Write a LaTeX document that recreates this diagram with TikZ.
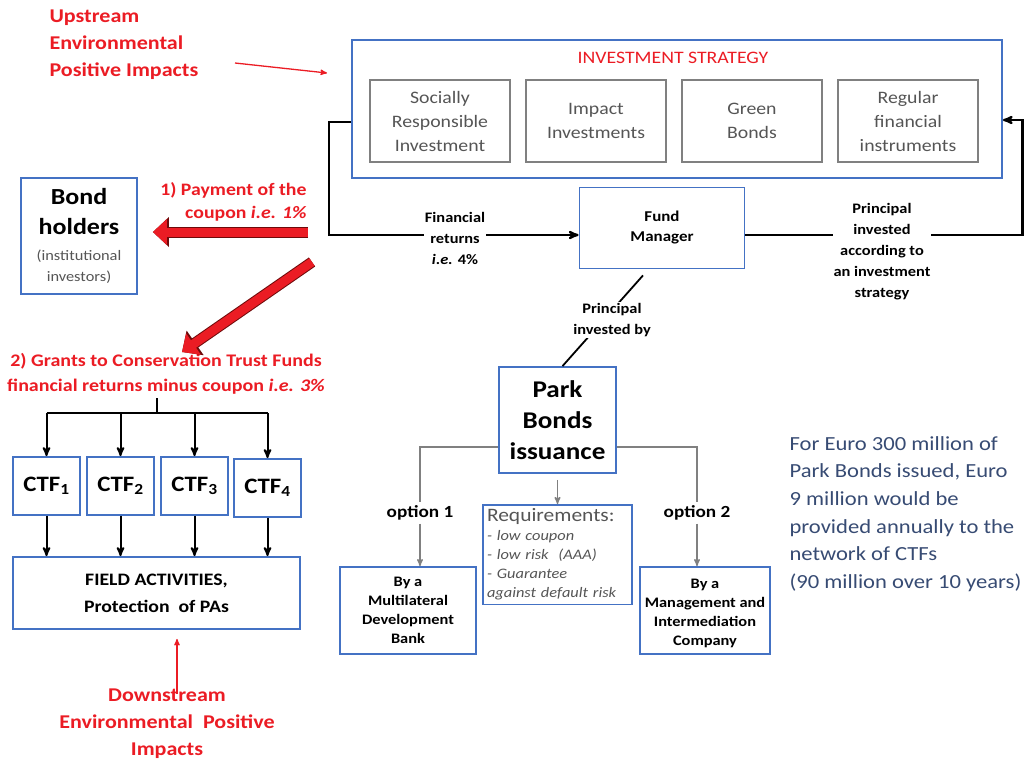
\documentclass[tikz,border=0pt]{standalone}
\usepackage{fontspec}
\setmainfont{Carlito}[FakeStretch=1.13]
\usepackage{tikz}
\usetikzlibrary{arrows}
\usetikzlibrary{arrows.meta}
\usetikzlibrary{positioning,calc}
\definecolor{boxblue}{RGB}{68,114,196}
\definecolor{mred}{RGB}{235,28,36}
\definecolor{darkred}{RGB}{110,10,10}
\definecolor{notecol}{RGB}{55,75,115}
\definecolor{txtgray}{RGB}{85,85,85}
\newcommand{\fsz}[2]{\fontsize{#1}{#2}\selectfont}
\newcommand{\smgray}{\fsz{14.5}{21}\mdseries\color{txtgray}}
\tikzset{
 bluebox/.style={draw=boxblue, line width=1.8pt, align=center, inner sep=2pt},
 graybox/.style={draw=gray, line width=1.4pt, align=center, minimum width=140pt, minimum height=82pt, font=\fsz{17.5}{24}, text=txtgray},
 conn/.style={black, line width=2.2pt, >=stealth'},
 gline/.style={draw=gray, line width=1.4pt, >=stealth'},
 thinred/.style={mred, line width=1.3pt, ->, >=stealth'},
 redlbl/.style={text=mred, font=\bfseries},
 blbl/.style={font=\fsz{14.5}{21}\bfseries, align=center, fill=white, inner sep=1pt},
 fatarrow/.style={line width=9pt, draw=mred, -{Triangle[length=14pt,width=25pt]},
   preaction={draw=darkred, line width=11pt, -{Triangle[length=16pt,width=29pt]}}}
}

\begin{document}
\begin{tikzpicture}[x=1pt,y=-1pt]
\useasboundingbox (0,0) rectangle (1027,761);

% upstream impacts
\node[redlbl, anchor=west, align=left, font=\fsz{19.5}{27}\bfseries] (up) at (46,45) {Upstream\\Environmental\\Positive Impacts};
\coordinate (upA) at (235,63);
\coordinate (upB) at (327,73);
\draw[thinred] (upA) -- (upB);

% investment strategy
\node[bluebox, minimum width=650pt, minimum height=138pt] (strat) at (677,109) {};
\node[text=mred, font=\fsz{17.5}{20}] (title) at (673,58) {INVESTMENT STRATEGY};
\foreach \i/\x/\txt in {1/440/{Socially\\Responsible\\Investment}, 2/596/{Impact\\Investments}, 3/752/{Green\\Bonds}, 4/908/{Regular\\financial\\instruments}}
 \node[graybox] (s\i) at (\x,121) {\txt};

% fund manager
\node[bluebox, minimum width=165pt, minimum height=81pt, font=\fsz{15}{20}\bfseries] (fm) at (662,228) {Fund\\Manager};
\draw[conn,->] ([yshift=-13pt]strat.west) -- ++(-22,0) |- ([yshift=-7pt]fm.west);
\node[blbl] (finret) at (455,238) {Financial\\returns\\\textit{i.e.} 4\%};
\draw[conn,->] ([yshift=-7pt]fm.east) -- ++(277,0) |- ([yshift=-11pt]strat.east);
\node[blbl] (princ) at (882,252) {Principal\\invested\\according to\\an investment\\strategy};

% park bonds
\node[bluebox, minimum width=117pt, minimum height=106pt, font=\fsz{24}{31}\bfseries] (park) at (557.5,420) {Park\\Bonds\\issuance};
\draw[conn, line width=1.8pt] ([xshift=-19pt,yshift=-6pt]fm.south) -- ([xshift=5pt]park.north);
\node[blbl] (pinv) at (612,320) {Principal\\invested by};

% options
\node[font=\fsz{17}{20}\bfseries, inner sep=3pt] (opt1) at (420,513) {option 1};
\node[font=\fsz{17}{20}\bfseries, inner sep=3pt] (opt2) at (697,513) {option 2};
\node[bluebox, minimum width=136pt, minimum height=87pt, font=\fsz{14.5}{19}\bfseries] (mdb) at (408,610.5) {By a\\Multilateral\\Development\\Bank};
\node[bluebox, minimum width=130pt, minimum height=87pt, font=\fsz{14.5}{19}\bfseries] (mic) at (705,610.5) {\mbox{}\\[-3pt]By a\\Management and\\Intermediation\\Company};
\node[bluebox, anchor=north, align=left, text width=141pt, inner xsep=4pt, inner ysep=4pt, font=\fsz{14.5}{19}\itshape, text=txtgray] (req) at (557.5,504) {{\upshape\fsz{19}{19}Requirements:}\\- low coupon\\- low risk\ \ (AAA)\\- Guarantee\\against default risk};
\draw[gline] ([yshift=-27pt]park.west) -| (opt1.north);
\draw[gline] ([yshift=-27pt]park.east) -| (opt2.north);
\draw[gline,->] (opt1.south) -- (opt1.south |- mdb.north);
\draw[gline,->] (opt2.south) -- (opt2.south |- mic.north);
\draw[gline,->] ([yshift=-6pt]park.south) -- (req.north);

% note
\node[anchor=west, align=left, text=notecol, font=\fsz{20}{27.6}] (note) at (786,514) {For Euro 300 million of\\Park Bonds issued, Euro\\9 million would be\\provided annually to the\\network of CTFs\\(90 million over 10 years)};

% bond holders
\node[bluebox, minimum width=116pt, minimum height=116pt, font=\fsz{23}{30}\bfseries] (bond) at (79,236) {Bond\\holders\\[-4pt]{\smgray (institutional}\\[-9pt]{\smgray investors)}};
\node[redlbl, anchor=east, align=right, font=\fsz{17.5}{23}\bfseries] (pay) at (310,202) {1) Payment of the\\coupon \textit{i.e. 1\%}};
\coordinate (payA) at (308,232);
\draw[fatarrow, shorten >=15pt] (payA) -- (payA -| bond.east);

% grants to CTFs
\node[redlbl, align=center, font=\fsz{17.7}{25}\bfseries] (grants) at (166,374) {2) Grants to Conservation Trust Funds\\financial returns minus coupon \textit{i.e. 3\%}};
\coordinate (grA) at (312,262);
\draw[fatarrow] (grA) -- ([xshift=16pt,yshift=-2pt]grants.north);
\foreach \i/\x/\y in {1/46.5/486, 2/120.5/486, 3/194.5/486, 4/267.5/488}
 \node[bluebox, minimum width=67pt, minimum height=58pt, font=\fsz{22}{26}\bfseries] (ctf\i) at (\x,\y) {CTF\textsubscript{\i}};
\node[bluebox, minimum width=287pt, minimum height=72pt, font=\fsz{17.5}{27}\bfseries] (field) at (156.5,593) {FIELD ACTIVITIES,\\Protection\ \ of PAs};
\coordinate (split) at (157,413);
\draw[conn, line width=2pt] (split |- grants.south) -- (split);
\draw[conn, line width=2pt] (ctf1 |- split) -- (ctf4 |- split);
\foreach \i in {1,...,4} {
 \draw[conn, line width=2pt, ->] (ctf\i |- split) -- (ctf\i.north);
 \draw[conn, line width=2pt, ->] (ctf\i.south) -- (ctf\i.south |- field.north);
}

% downstream impacts
\node[redlbl, align=center, font=\fsz{19.5}{27}\bfseries] (down) at (167,724) {Downstream\\Environmental\ \ Positive\\Impacts};
\draw[thinred] ([xshift=10pt,yshift=-8pt]down.north) -- ([xshift=20.5pt,yshift=-9pt]field.south);
\end{tikzpicture}
\end{document}
